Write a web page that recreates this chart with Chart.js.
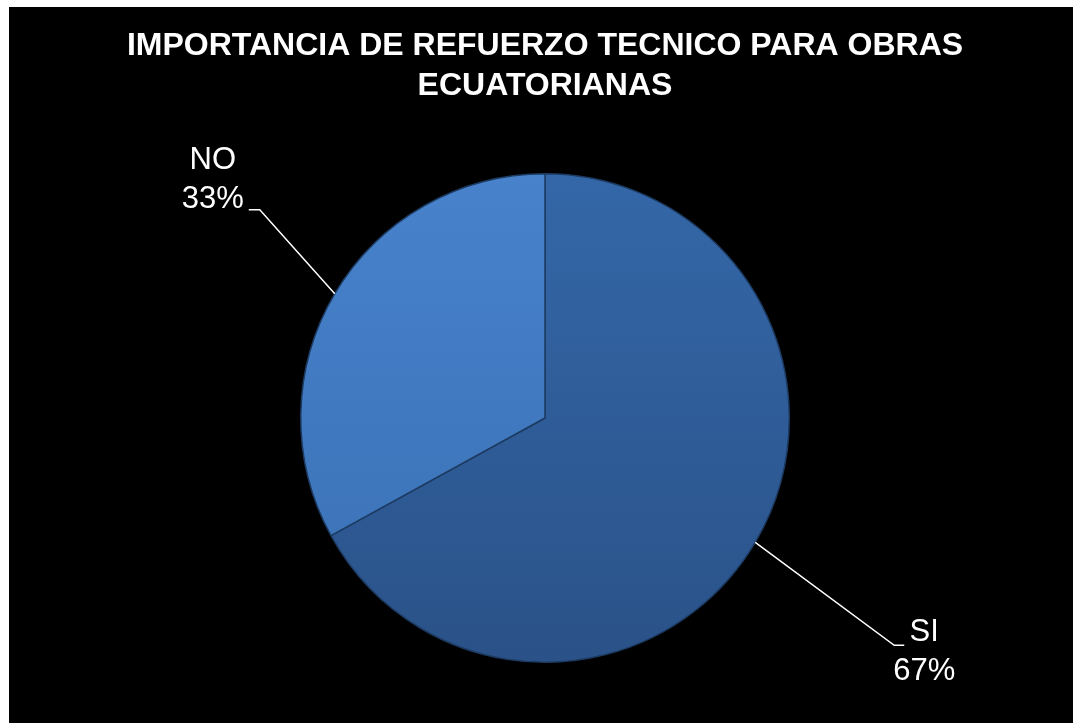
<!DOCTYPE html>
<html>
<head>
<meta charset="utf-8">
<script src="https://cdn.jsdelivr.net/npm/chart.js@4/dist/chart.umd.min.js"></script>
<style>
  html, body { margin: 0; padding: 0; background: #fff; }
  #wrap { position: absolute; left: 9px; top: 7px; width: 1064px; height: 716px; background: #000; }
</style>
</head>
<body>
<div id="wrap"><canvas id="pieChart"></canvas></div>
<script>
const etiquetas = ['SI', 'NO'];
const porcentajes = [67, 33];
const tituloLineas = ['IMPORTANCIA DE REFUERZO TECNICO PARA OBRAS', 'ECUATORIANAS'];

// colores de cada porción (arriba / abajo del degradado)
const coloresArriba = ['#3467a8', '#4782cb'];
const coloresAbajo = ['#2a5288', '#3a70b4'];

function relleno(context) {
  const chart = context.chart;
  const area = chart.chartArea;
  if (!area) return coloresArriba[context.dataIndex];
  const g = chart.ctx.createLinearGradient(0, area.top, 0, area.bottom);
  g.addColorStop(0, coloresArriba[context.dataIndex]);
  g.addColorStop(1, coloresAbajo[context.dataIndex]);
  return g;
}

// desplazamientos de las líneas guía (codo) respecto al borde del sector
const guias = [
  { codo: [139, 103], fin: 10, texto: [30, -13] },
  { codo: [-75, -84], fin: -11, texto: [-47, -49] }
];

const etiquetasPlugin = {
  id: 'etiquetasGuia',
  afterDatasetsDraw(chart) {
    const ctx = chart.ctx;
    const arcos = chart.getDatasetMeta(0).data;
    ctx.save();
    ctx.strokeStyle = '#ffffff';
    ctx.lineWidth = 1.5;
    ctx.fillStyle = '#ffffff';
    ctx.font = '31px "Liberation Sans", Arial, sans-serif';
    ctx.textAlign = 'center';
    ctx.textBaseline = 'middle';
    arcos.forEach((arc, i) => {
      const p = arc.getProps(['x', 'y', 'startAngle', 'endAngle', 'outerRadius'], true);
      const medio = (p.startAngle + p.endAngle) / 2;
      const bx = p.x + Math.cos(medio) * p.outerRadius;
      const by = p.y + Math.sin(medio) * p.outerRadius;
      const g = guias[i];
      const cx = bx + g.codo[0];
      const cy = by + g.codo[1];
      ctx.beginPath();
      ctx.moveTo(bx, by);
      ctx.lineTo(cx, cy);
      ctx.lineTo(cx + g.fin, cy);
      ctx.stroke();
      const tx = cx + g.texto[0];
      const ty = cy + g.texto[1];
      ctx.fillText(etiquetas[i], tx, ty);
      ctx.fillText(porcentajes[i] + '%', tx, ty + 39);
    });
    ctx.restore();
  }
};

new Chart(document.getElementById('pieChart').getContext('2d'), {
  type: 'pie',
  data: {
    labels: etiquetas,
    datasets: [{
      data: porcentajes,
      backgroundColor: relleno,
      borderColor: '#1d3b62',
      borderWidth: 1.5
    }]
  },
  options: {
    responsive: true,
    maintainAspectRatio: false,
    animation: false,
    layout: { padding: { left: 8, right: 0, top: 0, bottom: 60 } },
    plugins: {
      legend: { display: false },
      tooltip: { enabled: false },
      title: {
        display: true,
        text: tituloLineas,
        color: '#ffffff',
        font: { family: '"Liberation Sans", Arial, sans-serif', size: 32, weight: 'bold', lineHeight: 1.25 },
        padding: { top: 19, bottom: 67 }
      }
    }
  },
  plugins: [etiquetasPlugin]
});
</script>
</body>
</html>
